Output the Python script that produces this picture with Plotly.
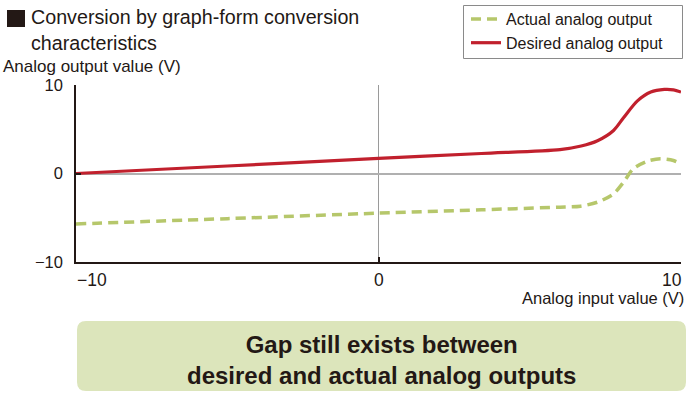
import plotly.graph_objects as go

# ---- data ----
desired_x = [-10, -5, 0, 3.4, 6.0, 6.7, 7.24, 7.77, 8.1, 8.56, 9.0, 9.45, 9.75, 10]
desired_y = [0, 0.85, 1.7, 2.26, 2.7, 3.1, 3.7, 4.86, 6.3, 8.2, 9.2, 9.5, 9.45, 9.2]
actual_x = [-10, -5, 0, 3.4, 6.0, 6.68, 7.24, 7.77, 8.1, 8.43, 8.89, 9.32, 9.75, 10]
actual_y = [-5.7, -5.1, -4.48, -4.1, -3.8, -3.69, -3.24, -2.3, -0.98, 0.56, 1.39, 1.66, 1.47, 1.1]
x_tick_vals = [-10, 0, 10]
x_tick_text = ["\u221210", "0", "10"]
y_tick_vals = [-10, 0, 10]
y_tick_text = ["\u221210", "0", "10"]
series_names = ["Actual analog output", "Desired analog output"]

W, H = 690, 396
L, R, T, B = 76, 681, 85, 262
TXT = "#231815"
FONT = "Liberation Sans, Arial, sans-serif"


def px(x):
    return (x - L) / (R - L)


def py(y):
    return (B - y) / (B - T)


fig = go.Figure()
fig.add_trace(go.Scatter(
    x=actual_x, y=actual_y, mode="lines", name=series_names[0],
    line=dict(color="#b6c76b", width=3.5, dash="10px,6px", shape="spline", smoothing=0.8),
))
fig.add_trace(go.Scatter(
    x=desired_x, y=desired_y, mode="lines", name=series_names[1],
    line=dict(color="#c1202d", width=3.2, shape="spline", smoothing=0.8),
))

annotations = []
# x tick labels
anchors = ["left", "center", "right"]
for v, t, a in zip(x_tick_vals, x_tick_text, anchors):
    annotations.append(dict(x=v, y=py(280), xref="x", yref="paper", text=t,
                            showarrow=False, xanchor=a, yanchor="middle",
                            xshift=(-1 if a == "left" else (3 if a == "right" else 0)),
                            font=dict(size=17.5, color=TXT, family=FONT)))
# axis titles
annotations.append(dict(x=px(1), y=py(66), xref="paper", yref="paper",
                        text="Analog output value (V)", showarrow=False,
                        xanchor="left", yanchor="middle",
                        font=dict(size=17, color=TXT, family=FONT)))
annotations.append(dict(x=px(686), y=py(298), xref="paper", yref="paper",
                        text="Analog input value (V)", showarrow=False,
                        xanchor="right", yanchor="middle",
                        font=dict(size=16.5, color=TXT, family=FONT)))
# title
annotations.append(dict(x=px(29), y=py(4), xref="paper", yref="paper",
                        text="Conversion by graph-form conversion<br>characteristics",
                        showarrow=False, xanchor="left", yanchor="top", align="left",
                        font=dict(size=19.7, color=TXT, family=FONT)))
# bottom message
annotations.append(dict(x=px(381), y=py(360), xref="paper", yref="paper",
                        text="<b>Gap still exists between<br>desired and actual analog outputs</b>",
                        showarrow=False, xanchor="center", yanchor="middle", align="center",
                        font=dict(size=24, color=TXT, family=FONT)))

# rounded box path in paper coords
x0, x1, y0, y1, r = 77, 686, 321, 391, 9
rx, ry = r / (R - L), r / (B - T)
X0, X1, Y0, Y1 = px(x0), px(x1), py(y1), py(y0)  # Y0 bottom, Y1 top
path = (f"M {X0+rx},{Y1} L {X1-rx},{Y1} Q {X1},{Y1} {X1},{Y1-ry} "
        f"L {X1},{Y0+ry} Q {X1},{Y0} {X1-rx},{Y0} L {X0+rx},{Y0} "
        f"Q {X0},{Y0} {X0},{Y0+ry} L {X0},{Y1-ry} Q {X0},{Y1} {X0+rx},{Y1} Z")

shapes = [
    dict(type="path", path=path, xref="paper", yref="paper",
         fillcolor="#dce5bb", line=dict(width=0), layer="below"),
    dict(type="rect", xref="paper", yref="paper", x0=px(7), x1=px(25), y0=py(27), y1=py(10),
         fillcolor=TXT, line=dict(width=0)),
    # legend frame
    dict(type="rect", xref="paper", yref="paper", x0=px(463.5), x1=px(682.5), y0=py(58.5), y1=py(5.5),
         fillcolor="rgba(0,0,0,0)", line=dict(width=1, color="#8a8a8a")),
]

fig.update_layout(
    width=W, height=H,
    margin=dict(l=L, r=W - R, t=T, b=H - B, autoexpand=False),
    paper_bgcolor="white", plot_bgcolor="white",
    font=dict(family=FONT, color=TXT),
    showlegend=True,
    legend=dict(x=px(466), y=py(2), xref="paper", yref="paper", xanchor="left", yanchor="top",
                bgcolor="rgba(0,0,0,0)", borderwidth=0,
                font=dict(size=16, color=TXT, family=FONT),
                itemwidth=30, tracegroupgap=0),
    xaxis=dict(range=[-10, 10], showgrid=False, zeroline=True, zerolinecolor="#9a9a9a",
               zerolinewidth=1, showline=True, linecolor=TXT, linewidth=1.5,
               tickvals=x_tick_vals, ticktext=x_tick_text, showticklabels=False,
               ticks="inside", ticklen=5, tickcolor=TXT, tickwidth=1.5, fixedrange=True),
    yaxis=dict(range=[-10, 10], showgrid=False, zeroline=True, zerolinecolor="#b0b0b0",
               zerolinewidth=1.5, showline=True, linecolor=TXT, linewidth=1.5,
               tickvals=y_tick_vals, ticktext=y_tick_text,
               ticks="inside", ticklen=5, tickcolor=TXT, tickwidth=1.5,
               tickfont=dict(size=16.5, color=TXT, family=FONT), ticklabelstandoff=8,
               fixedrange=True),
    annotations=annotations,
    shapes=shapes,
)

fig.write_html("out.html", config={"displayModeBar": False},
               post_script="document.body.style.margin='0';document.body.style.overflow='hidden';")
